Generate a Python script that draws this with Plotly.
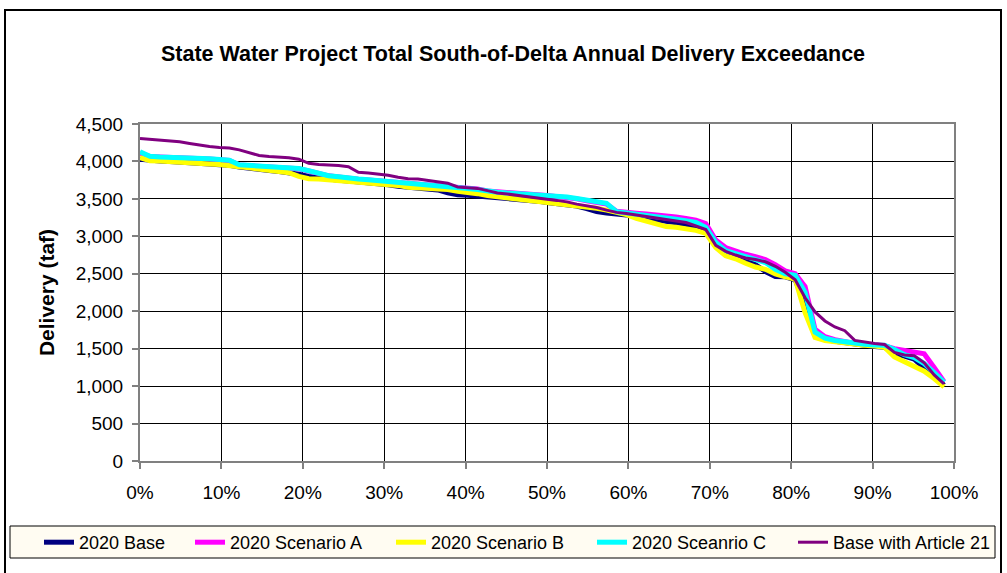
import plotly.graph_objects as go

# Exceedance probability for 82 sorted annual values (i/82)
n_years = 82
exceedance = [i / n_years for i in range(n_years)]

base_2020 = [4030, 4010, 4005, 4000, 3995, 3985, 3975, 3965, 3955, 3950,
             3925, 3915, 3900, 3880, 3865, 3850, 3830, 3800, 3780, 3765,
             3750, 3740, 3730, 3720, 3705, 3690, 3670, 3655, 3640, 3630,
             3620, 3580, 3555, 3550, 3540, 3525, 3510, 3500, 3490, 3480,
             3470, 3450, 3440, 3425, 3405, 3370, 3330, 3310, 3300, 3290,
             3270, 3240, 3220, 3200, 3180, 3160, 3120, 3070, 2870, 2760,
             2720, 2680, 2620, 2530, 2465, 2460, 2420, 2100, 1680, 1625,
             1600, 1580, 1565, 1550, 1530, 1520, 1430, 1400, 1360, 1240,
             1120, 1010]

scenario_a = [4110, 4065, 4058, 4055, 4052, 4046, 4038, 4032, 4022, 4012,
              3952, 3942, 3932, 3925, 3917, 3910, 3902, 3872, 3838, 3808,
              3792, 3772, 3762, 3752, 3742, 3732, 3712, 3698, 3688, 3683,
              3676, 3668, 3658, 3650, 3632, 3605, 3592, 3578, 3568, 3562,
              3555, 3545, 3535, 3520, 3500, 3475, 3455, 3430, 3335, 3315,
              3310, 3300, 3290, 3275, 3260, 3240, 3215, 3170, 2950, 2850,
              2800, 2760, 2730, 2690, 2620, 2540, 2500, 2330, 1760, 1660,
              1620, 1590, 1570, 1555, 1545, 1540, 1500, 1480, 1460, 1430,
              1250, 1060]

scenario_b = [4050, 4010, 4005, 4000, 3995, 3985, 3975, 3965, 3958, 3950,
              3930, 3915, 3900, 3885, 3870, 3850, 3800, 3770, 3765, 3755,
              3740, 3730, 3725, 3720, 3705, 3695, 3680, 3655, 3650, 3645,
              3635, 3625, 3600, 3590, 3570, 3545, 3530, 3520, 3505, 3495,
              3480, 3465, 3450, 3430, 3415, 3390, 3375, 3350, 3320, 3290,
              3240, 3200, 3160, 3130, 3120, 3100, 3080, 3040, 2850, 2740,
              2700, 2640, 2590, 2560, 2500, 2460, 2430, 1980, 1650, 1610,
              1590, 1570, 1560, 1545, 1535, 1520, 1390, 1330, 1270, 1200,
              1100, 990]

scenario_c = [4130, 4070, 4060, 4058, 4055, 4050, 4040, 4035, 4025, 4015,
              3955, 3945, 3935, 3928, 3920, 3912, 3905, 3875, 3840, 3810,
              3795, 3775, 3765, 3755, 3745, 3735, 3715, 3700, 3690, 3685,
              3676, 3665, 3650, 3640, 3625, 3600, 3590, 3578, 3570, 3565,
              3558, 3550, 3540, 3525, 3505, 3480, 3465, 3440, 3330, 3310,
              3300, 3285, 3265, 3245, 3230, 3210, 3185, 3120, 2920, 2810,
              2770, 2735, 2700, 2650, 2560, 2500, 2480, 2250, 1720, 1640,
              1610, 1590, 1575, 1560, 1550, 1545, 1490, 1420, 1380, 1300,
              1180, 1050]

base_art21 = [4305, 4295, 4280, 4265, 4262, 4240, 4215, 4200, 4185, 4178,
              4155, 4120, 4080, 4066, 4060, 4050, 4030, 3975, 3960, 3955,
              3945, 3930, 3855, 3845, 3835, 3815, 3790, 3770, 3765, 3750,
              3730, 3710, 3660, 3650, 3640, 3610, 3580, 3565, 3545, 3530,
              3515, 3495, 3480, 3460, 3430, 3410, 3385, 3350, 3320, 3305,
              3290, 3265, 3245, 3225, 3205, 3185, 3140, 3090, 2880, 2800,
              2750, 2710, 2690, 2660, 2600, 2520, 2420, 2180, 1990, 1870,
              1790, 1740, 1610, 1585, 1570, 1555, 1450, 1415, 1405, 1310,
              1150, 1030]

series_names = ["2020 Base", "2020 Scenario A", "2020 Scenario B",
                "2020 Sceanrio C", "Base with Article 21"]
series_values = [base_2020, scenario_a, scenario_b, scenario_c, base_art21]
series_colors = ["#000080", "#FF00FF", "#FFFF00", "#00FFFF", "#800080"]
series_widths = [5, 5, 5, 5, 3]
legend_widths = [106, 156, 156, 157, 165]
legend_ids = ["legend", "legend", "legend", "legend", "legend2"]

y_tickvals = [0, 500, 1000, 1500, 2000, 2500, 3000, 3500, 4000, 4500]
x_tickvals = [0, 0.1, 0.2, 0.3, 0.4, 0.5, 0.6, 0.7, 0.8, 0.9, 1.0]
x_ticklabels = ["0%", "10%", "20%", "30%", "40%", "50%", "60%", "70%", "80%", "90%", "100%"]

fig = go.Figure()
for name, vals, col, w, lw, lg in zip(series_names, series_values, series_colors,
                                      series_widths, legend_widths, legend_ids):
    fig.add_trace(go.Scatter(x=exceedance, y=vals, mode="lines", name=name,
                             line=dict(color=col, width=w), legendwidth=lw,
                             legend=lg))

W, H = 1007, 573
L, R, T, B = 140, 954, 124, 461

def px(xp):
    return (xp - L) / (R - L)

def py(yp):
    return (B - yp) / (B - T)

font_family = "Arial, Liberation Sans, sans-serif"
legend_common = dict(orientation="h", xanchor="left", yanchor="top",
                     bgcolor="rgba(0,0,0,0)", borderwidth=0,
                     font=dict(size=18, family=font_family), itemwidth=30,
                     tracegroupgap=0)

fig.update_layout(
    width=W, height=H,
    margin=dict(l=L, r=W - R, t=T, b=H - B, pad=0, autoexpand=False),
    paper_bgcolor="white", plot_bgcolor="white",
    font=dict(family=font_family, color="black", size=19),
    title=dict(text="<b>State Water Project Total South-of-Delta Annual Delivery Exceedance</b>",
               x=px(513), xref="paper", xanchor="center", y=1 - 53 / H, yanchor="middle",
               font=dict(size=21.5, family=font_family)),
    showlegend=True,
    legend=dict(x=px(39), y=py(524), **legend_common),
    legend2=dict(x=px(793), y=py(524), **legend_common),
    xaxis=dict(range=[0, 1], tickvals=x_tickvals, ticktext=x_ticklabels,
               showgrid=True, gridcolor="black", gridwidth=1,
               showline=True, linecolor="#808080", linewidth=2, mirror=True,
               ticks="outside", ticklen=6, tickcolor="#808080", tickwidth=2,
               ticklabelstandoff=7, zeroline=False,
               tickfont=dict(size=19)),
    yaxis=dict(range=[0, 4500], tickvals=y_tickvals, tickformat=",d",
               showgrid=True, gridcolor="black", gridwidth=1,
               showline=True, linecolor="#808080", linewidth=2, mirror=True,
               ticks="outside", ticklen=6, tickcolor="#808080", tickwidth=2,
               ticklabelstandoff=5, zeroline=False,
               title=dict(text="<b>Delivery (taf)</b>", font=dict(size=21), standoff=15),
               tickfont=dict(size=19)),
    shapes=[
        dict(type="rect", xref="paper", yref="paper",
             x0=px(5), x1=px(1001), y0=py(580), y1=py(10),
             line=dict(color="black", width=2), fillcolor="rgba(0,0,0,0)",
             layer="below"),
        dict(type="rect", xref="paper", yref="paper",
             x0=px(10), x1=px(995), y0=py(558), y1=py(526),
             line=dict(color="black", width=1), fillcolor="#FFFCF2",
             layer="below"),
    ],
)

fig.write_html("out.html", config={"displayModeBar": False},
               post_script="document.body.style.margin='0px';")
